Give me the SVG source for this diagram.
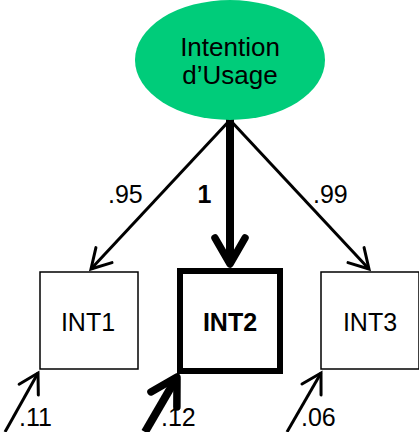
<svg xmlns="http://www.w3.org/2000/svg" width="419" height="432" viewBox="0 0 419 432">
<style>
text{font-family:"Liberation Sans",Arial,sans-serif;fill:#000}
.big{font-size:26px}
.lbl{font-size:25px}
.box{fill:#fff;stroke:#000;stroke-width:1.5}
.thin{stroke:#000;stroke-width:3;fill:none}
.thick{stroke:#000;stroke-width:8;fill:none}
</style>
<defs>
<marker id="ah" markerUnits="userSpaceOnUse" orient="auto" refX="0" refY="0" markerWidth="40" markerHeight="40" viewBox="-30 -20 40 40" overflow="visible">
<path d="M-19,-11 L0,0 L-19,11" fill="none" stroke="#000" stroke-width="3" stroke-linecap="round" stroke-linejoin="miter"/>
</marker>
<marker id="ahb" markerUnits="userSpaceOnUse" orient="auto" refX="0" refY="0" markerWidth="60" markerHeight="60" viewBox="-40 -30 60 60" overflow="visible">
<path d="M-26,-15 L0,0 L-26,15" fill="none" stroke="#000" stroke-width="7.5" stroke-linecap="round" stroke-linejoin="round"/>
</marker>
</defs>
<g id="connectors">
<line class="thin" x1="230" y1="120" x2="91" y2="269" marker-end="url(#ah)"/>
<line class="thick" x1="230" y1="119" x2="230" y2="264" marker-end="url(#ahb)"/>
<line class="thin" x1="230" y1="120" x2="369" y2="269" marker-end="url(#ah)"/>
<line class="thin" x1="5" y1="432" x2="38" y2="373" marker-end="url(#ah)"/>
<line class="thick" x1="145" y1="432" x2="177" y2="377" marker-end="url(#ahb)"/>
<line class="thin" x1="287" y1="432" x2="321" y2="373" marker-end="url(#ah)"/>
<text class="lbl" x="108" y="203">.95</text>
<text class="lbl" x="197.5" y="203" font-weight="bold">1</text>
<text class="lbl" x="313" y="203">.99</text>
<text class="lbl" x="19" y="426">.11</text>
<text class="lbl" x="161" y="426">.12</text>
<text class="lbl" x="301" y="426">.06</text>
</g>
<g id="intention">
<ellipse cx="230" cy="60" rx="95" ry="60" fill="#00CC7A"/>
<text class="big" x="230" y="56" text-anchor="middle">Intention</text>
<text class="big" x="230" y="84" text-anchor="middle">d’Usage</text>
</g>
<g id="int1">
<rect class="box" x="40" y="272" width="98" height="97"/>
<text class="lbl" x="88" y="331" text-anchor="middle">INT1</text>
</g>
<g id="int2">
<rect x="180" y="271" width="100" height="100" fill="#fff" stroke="#000" stroke-width="6"/>
<text class="lbl" x="230" y="331" text-anchor="middle" font-weight="bold">INT2</text>
</g>
<g id="int3">
<rect class="box" x="321" y="272" width="98" height="97"/>
<text class="lbl" x="370" y="331" text-anchor="middle">INT3</text>
</g>
</svg>
